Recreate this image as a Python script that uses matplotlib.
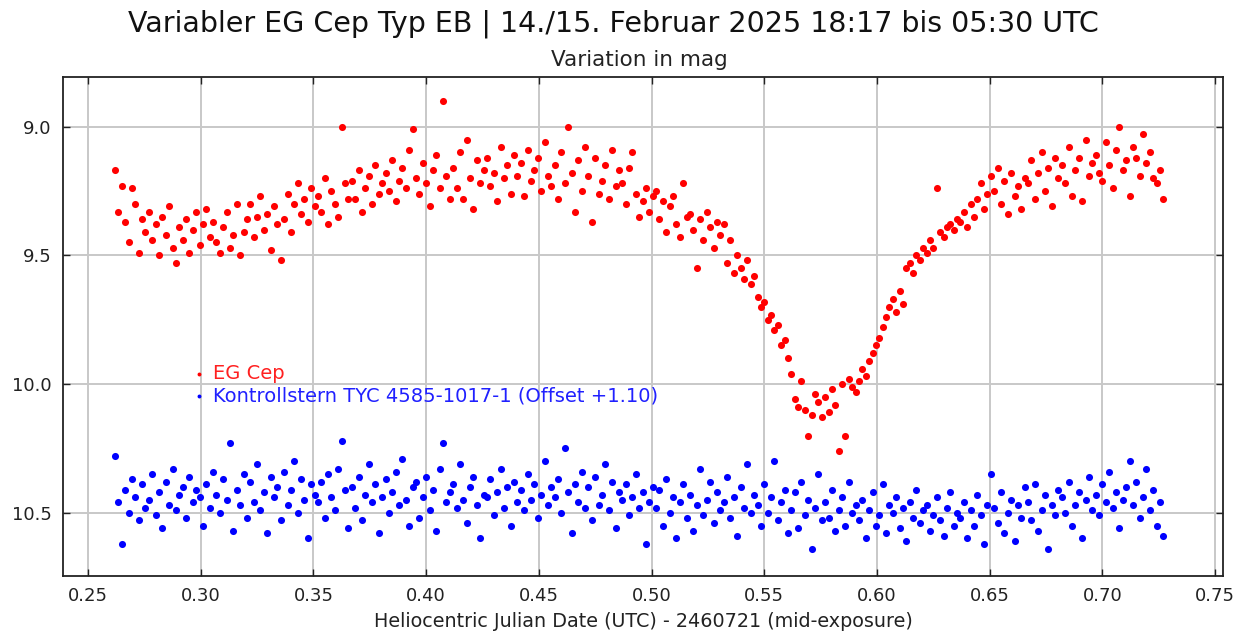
import matplotlib.pyplot as plt
from matplotlib.ticker import FormatStrFormatter, MultipleLocator

# HJD - 2460721, one entry per exposure (shared by both stars)
HJD = [
    0.2620, 0.2635, 0.2650, 0.2665, 0.2680, 0.2695, 0.2710, 0.2725, 0.2740, 0.2755,
    0.2770, 0.2785, 0.2800, 0.2815, 0.2830, 0.2845, 0.2860, 0.2875, 0.2890, 0.2905,
    0.2920, 0.2935, 0.2950, 0.2965, 0.2980, 0.2995, 0.3010, 0.3025, 0.3040, 0.3055,
    0.3070, 0.3085, 0.3100, 0.3115, 0.3130, 0.3145, 0.3160, 0.3175, 0.3190, 0.3205,
    0.3220, 0.3235, 0.3250, 0.3265, 0.3280, 0.3295, 0.3310, 0.3325, 0.3340, 0.3355,
    0.3370, 0.3385, 0.3400, 0.3415, 0.3430, 0.3445, 0.3460, 0.3475, 0.3490, 0.3505,
    0.3520, 0.3535, 0.3550, 0.3565, 0.3580, 0.3595, 0.3610, 0.3625, 0.3640, 0.3655,
    0.3670, 0.3685, 0.3700, 0.3715, 0.3730, 0.3745, 0.3760, 0.3775, 0.3790, 0.3805,
    0.3820, 0.3835, 0.3850, 0.3865, 0.3880, 0.3895, 0.3910, 0.3925, 0.3940, 0.3955,
    0.3970, 0.3985, 0.4000, 0.4015, 0.4030, 0.4045, 0.4060, 0.4075, 0.4090, 0.4105,
    0.4120, 0.4135, 0.4150, 0.4165, 0.4180, 0.4195, 0.4210, 0.4225, 0.4240, 0.4255,
    0.4270, 0.4285, 0.4300, 0.4315, 0.4330, 0.4345, 0.4360, 0.4375, 0.4390, 0.4405,
    0.4420, 0.4435, 0.4450, 0.4465, 0.4480, 0.4495, 0.4510, 0.4525, 0.4540, 0.4555,
    0.4570, 0.4585, 0.4600, 0.4615, 0.4630, 0.4645, 0.4660, 0.4675, 0.4690, 0.4705,
    0.4720, 0.4735, 0.4750, 0.4765, 0.4780, 0.4795, 0.4810, 0.4825, 0.4840, 0.4855,
    0.4870, 0.4885, 0.4900, 0.4915, 0.4930, 0.4945, 0.4960, 0.4975, 0.4990, 0.5005,
    0.5020, 0.5035, 0.5050, 0.5065, 0.5080, 0.5095, 0.5110, 0.5125, 0.5140, 0.5155,
    0.5170, 0.5185, 0.5200, 0.5215, 0.5230, 0.5245, 0.5260, 0.5275, 0.5290, 0.5305,
    0.5320, 0.5335, 0.5350, 0.5365, 0.5380, 0.5395, 0.5410, 0.5425, 0.5440, 0.5455,
    0.5470, 0.5485, 0.5500, 0.5515, 0.5530, 0.5545, 0.5560, 0.5575, 0.5590, 0.5605,
    0.5620, 0.5635, 0.5650, 0.5665, 0.5680, 0.5695, 0.5710, 0.5725, 0.5740, 0.5755,
    0.5770, 0.5785, 0.5800, 0.5815, 0.5830, 0.5845, 0.5860, 0.5875, 0.5890, 0.5905,
    0.5920, 0.5935, 0.5950, 0.5965, 0.5980, 0.5995, 0.6010, 0.6025, 0.6040, 0.6055,
    0.6070, 0.6085, 0.6100, 0.6115, 0.6130, 0.6145, 0.6160, 0.6175, 0.6190, 0.6205,
    0.6220, 0.6235, 0.6250, 0.6265, 0.6280, 0.6295, 0.6310, 0.6325, 0.6340, 0.6355,
    0.6370, 0.6385, 0.6400, 0.6415, 0.6430, 0.6445, 0.6460, 0.6475, 0.6490, 0.6505,
    0.6520, 0.6535, 0.6550, 0.6565, 0.6580, 0.6595, 0.6610, 0.6625, 0.6640, 0.6655,
    0.6670, 0.6685, 0.6700, 0.6715, 0.6730, 0.6745, 0.6760, 0.6775, 0.6790, 0.6805,
    0.6820, 0.6835, 0.6850, 0.6865, 0.6880, 0.6895, 0.6910, 0.6925, 0.6940, 0.6955,
    0.6970, 0.6985, 0.7000, 0.7015, 0.7030, 0.7045, 0.7060, 0.7075, 0.7090, 0.7105,
    0.7120, 0.7135, 0.7150, 0.7165, 0.7180, 0.7195, 0.7210, 0.7225, 0.7240, 0.7255,
    0.7270,
]

EG_CEP = [
    9.17, 9.33, 9.23, 9.37, 9.45, 9.24, 9.30, 9.49, 9.36, 9.41,
    9.33, 9.44, 9.38, 9.50, 9.35, 9.42, 9.31, 9.47, 9.53, 9.39,
    9.44, 9.36, 9.49, 9.40, 9.33, 9.46, 9.38, 9.32, 9.43, 9.37,
    9.45, 9.49, 9.39, 9.33, 9.47, 9.42, 9.30, 9.50, 9.41, 9.36,
    9.30, 9.43, 9.35, 9.27, 9.40, 9.34, 9.48, 9.31, 9.38, 9.52,
    9.36, 9.26, 9.41, 9.30, 9.22, 9.34, 9.28, 9.37, 9.24, 9.31,
    9.27, 9.33, 9.20, 9.38, 9.25, 9.30, 9.35, 9.00, 9.22, 9.28,
    9.21, 9.28, 9.17, 9.33, 9.24, 9.19, 9.30, 9.15, 9.26, 9.22,
    9.18, 9.25, 9.13, 9.29, 9.21, 9.16, 9.24, 9.09, 9.01, 9.20,
    9.26, 9.14, 9.22, 9.31, 9.17, 9.11, 9.24, 8.90, 9.19, 9.28,
    9.16, 9.24, 9.10, 9.28, 9.05, 9.20, 9.32, 9.13, 9.22, 9.17,
    9.12, 9.23, 9.18, 9.29, 9.08, 9.20, 9.15, 9.26, 9.11, 9.19,
    9.14, 9.27, 9.09, 9.21, 9.17, 9.12, 9.25, 9.06, 9.19, 9.23,
    9.15, 9.28, 9.10, 9.22, 9.00, 9.18, 9.33, 9.13, 9.25, 9.08,
    9.19, 9.37, 9.12, 9.26, 9.21, 9.15, 9.28, 9.09, 9.23, 9.17,
    9.22, 9.30, 9.16, 9.10, 9.26, 9.35, 9.29, 9.24, 9.33, 9.27,
    9.25, 9.36, 9.29, 9.41, 9.31, 9.27, 9.38, 9.43, 9.22, 9.35,
    9.34, 9.40, 9.55, 9.36, 9.44, 9.33, 9.39, 9.47, 9.37, 9.42,
    9.38, 9.53, 9.44, 9.57, 9.50, 9.55, 9.59, 9.52, 9.61, 9.58,
    9.66, 9.70, 9.68, 9.75, 9.73, 9.79, 9.77, 9.85, 9.83, 9.90,
    9.96, 10.06, 10.09, 9.99, 10.10, 10.20, 10.12, 10.04, 10.07, 10.13,
    10.05, 10.11, 10.02, 10.08, 10.26, 10.00, 10.20, 9.98, 10.01, 10.03,
    9.99, 9.94, 9.97, 9.91, 9.88, 9.85, 9.82, 9.78, 9.74, 9.70,
    9.67, 9.72, 9.64, 9.69, 9.55, 9.53, 9.57, 9.50, 9.52, 9.47,
    9.49, 9.44, 9.47, 9.24, 9.41, 9.43, 9.39, 9.38, 9.40, 9.36,
    9.37, 9.33, 9.39, 9.30, 9.35, 9.28, 9.22, 9.32, 9.26, 9.19,
    9.25, 9.16, 9.30, 9.21, 9.34, 9.18, 9.27, 9.23, 9.32, 9.20,
    9.22, 9.13, 9.28, 9.18, 9.10, 9.25, 9.16, 9.31, 9.12, 9.20,
    9.15, 9.22, 9.08, 9.27, 9.17, 9.12, 9.29, 9.05, 9.19, 9.14,
    9.11, 9.18, 9.21, 9.06, 9.15, 9.24, 9.09, 9.00, 9.17, 9.13,
    9.27, 9.08, 9.12, 9.19, 9.03, 9.14, 9.10, 9.20, 9.22, 9.17,
    9.28,
]

# check star, already shifted by +1.10 mag
KONTROLL = [
    10.28, 10.46, 10.62, 10.41, 10.50, 10.37, 10.44, 10.53, 10.39, 10.48,
    10.45, 10.35, 10.51, 10.42, 10.56, 10.38, 10.47, 10.33, 10.49, 10.43,
    10.40, 10.52, 10.36, 10.46, 10.41, 10.44, 10.55, 10.39, 10.48, 10.34,
    10.43, 10.50, 10.37, 10.45, 10.23, 10.57, 10.41, 10.47, 10.35, 10.52,
    10.38, 10.46, 10.31, 10.49, 10.42, 10.58, 10.36, 10.44, 10.40, 10.53,
    10.34, 10.47, 10.41, 10.30, 10.50, 10.37, 10.45, 10.60, 10.39, 10.43,
    10.46, 10.38, 10.52, 10.35, 10.44, 10.49, 10.33, 10.22, 10.41, 10.56,
    10.40, 10.48, 10.36, 10.53, 10.43, 10.31, 10.46, 10.39, 10.58, 10.44,
    10.37, 10.50, 10.42, 10.34, 10.47, 10.29, 10.45, 10.55, 10.40, 10.38,
    10.52, 10.44, 10.36, 10.49, 10.41, 10.57, 10.33, 10.23, 10.46, 10.42,
    10.39, 10.48, 10.31, 10.45, 10.54, 10.40, 10.36, 10.47, 10.60, 10.43,
    10.44, 10.37, 10.51, 10.42, 10.33, 10.48, 10.40, 10.55, 10.38, 10.46,
    10.41, 10.49, 10.35, 10.45, 10.39, 10.52, 10.43, 10.30, 10.47, 10.40,
    10.44, 10.37, 10.50, 10.25, 10.42, 10.58, 10.39, 10.46, 10.34, 10.48,
    10.40, 10.53, 10.36, 10.47, 10.43, 10.31, 10.49, 10.38, 10.56, 10.42,
    10.45, 10.39, 10.51, 10.44, 10.35, 10.48, 10.42, 10.62, 10.46, 10.40,
    10.48, 10.41, 10.55, 10.37, 10.50, 10.44, 10.60, 10.46, 10.39, 10.52,
    10.43, 10.57, 10.47, 10.33, 10.51, 10.45, 10.38, 10.54, 10.42, 10.49,
    10.46, 10.36, 10.52, 10.44, 10.59, 10.40, 10.48, 10.31, 10.50, 10.43,
    10.47, 10.55, 10.39, 10.50, 10.44, 10.30, 10.53, 10.46, 10.41, 10.58,
    10.49, 10.42, 10.56, 10.38, 10.51, 10.45, 10.64, 10.48, 10.35, 10.53,
    10.46, 10.52, 10.41, 10.57, 10.49, 10.44, 10.55, 10.38, 10.50, 10.47,
    10.53, 10.45, 10.60, 10.49, 10.42, 10.55, 10.51, 10.39, 10.58, 10.47,
    10.50, 10.44, 10.56, 10.48, 10.61, 10.46, 10.52, 10.41, 10.54, 10.49,
    10.47, 10.57, 10.51, 10.44, 10.53, 10.59, 10.48, 10.42, 10.55, 10.50,
    10.52, 10.46, 10.60, 10.49, 10.55, 10.43, 10.51, 10.62, 10.47, 10.35,
    10.48, 10.54, 10.42, 10.58, 10.50, 10.45, 10.61, 10.47, 10.52, 10.40,
    10.46, 10.53, 10.39, 10.57, 10.49, 10.43, 10.64, 10.47, 10.51, 10.41,
    10.44, 10.50, 10.38, 10.55, 10.47, 10.42, 10.60, 10.45, 10.36, 10.49,
    10.43, 10.51, 10.39, 10.46, 10.34, 10.48, 10.42, 10.56, 10.45, 10.40,
    10.30, 10.47, 10.38, 10.52, 10.44, 10.33, 10.49, 10.41, 10.55, 10.46,
    10.59,
]

TITLE = "Variabler EG Cep Typ EB | 14./15. Februar 2025 18:17 bis 05:30 UTC"
SUBTITLE = "Variation in mag"
XLABEL = "Heliocentric Julian Date (UTC) - 2460721 (mid-exposure)"
LABEL_VAR = "EG Cep"
LABEL_CHECK = "Kontrollstern TYC 4585-1017-1 (Offset +1.10)"

plt.rcParams["font.family"] = ["DejaVu Sans"]

fig = plt.figure(figsize=(12.47, 6.33), dpi=100)
ax = fig.add_axes([0.0505, 0.09, 0.9303, 0.7884])

red = ax.scatter(HJD, EG_CEP, s=26, color="#ff0000", linewidths=0, zorder=3)
blue = ax.scatter(HJD, KONTROLL, s=26, color="#0000ff", linewidths=0, zorder=3)

ax.set_xlim(0.2389, 0.7535)
ax.set_ylim(10.746, 8.807)
ax.xaxis.set_major_locator(MultipleLocator(0.05))
ax.yaxis.set_major_locator(MultipleLocator(0.5))
ax.xaxis.set_major_formatter(FormatStrFormatter("%.2f"))
ax.yaxis.set_major_formatter(FormatStrFormatter("%.1f"))
ax.grid(color="#c8c8c8", linewidth=1.4, zorder=0)
ax.set_axisbelow(True)
ax.tick_params(direction="in", length=5, width=1, labelsize=13,
               top=True, right=True, pad=8, colors="#222222")
for sp in ax.spines.values():
    sp.set_linewidth(1.3)
    sp.set_color("#222222")

ax.set_xlabel(XLABEL, fontsize=13.8, labelpad=5, color="#222222")

fig.text(0.4916, 0.962, TITLE, ha="center", va="center", fontsize=20.5,
         color="#111111")
fig.text(0.513, 0.905, SUBTITLE, ha="center", va="center", fontsize=15.5,
         color="#222222")

leg = ax.legend([red, blue], [LABEL_VAR, LABEL_CHECK],
                loc="upper left", bbox_to_anchor=(0.105, 0.444),
                frameon=False, markerscale=0.55, handlelength=0.5,
                handletextpad=0.45, labelspacing=0.15, borderpad=0,
                labelcolor=["#ff2020", "#2020ff"],
                prop={"size": 14})

fig.savefig("out.png", dpi=100)
